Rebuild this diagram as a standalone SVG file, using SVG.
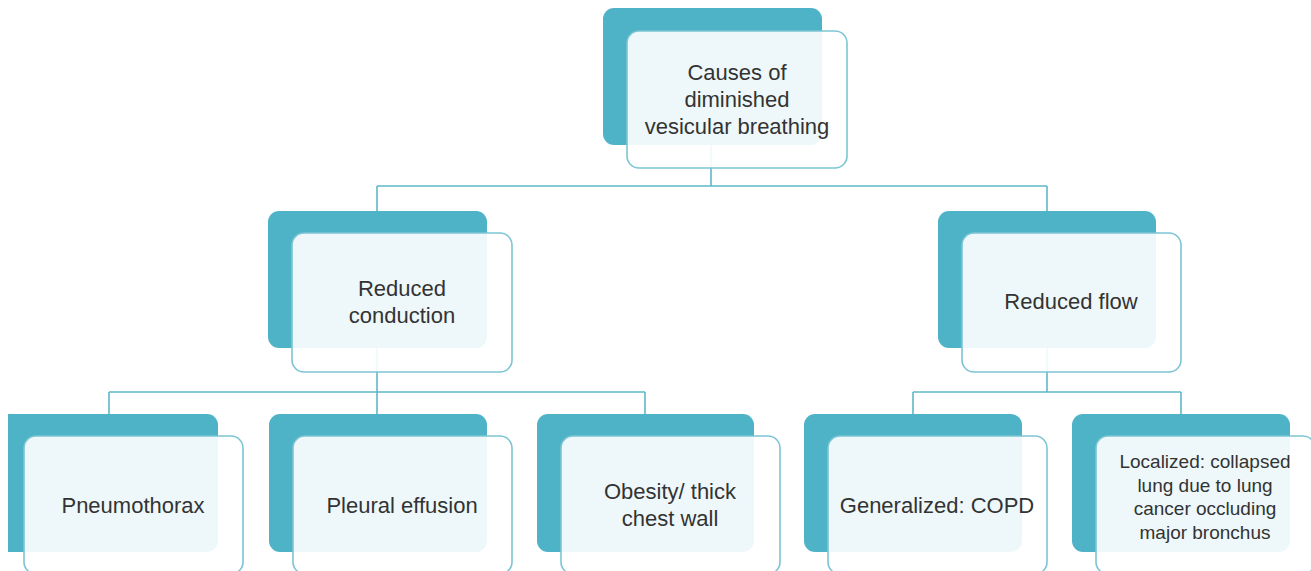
<svg xmlns="http://www.w3.org/2000/svg" width="1311" height="571" viewBox="0 0 1311 571">
<style>
.back{fill:#4fb3c7}
.front{fill:#ffffff;fill-opacity:0.9;stroke:#7cc5d4;stroke-width:1.6}
.conn{fill:none;stroke:#5fb8ca;stroke-width:1.6}
text{font-family:"Liberation Sans",Arial,sans-serif;font-size:22px;fill:#333333;text-anchor:middle}
.small{font-size:19px}
</style>
<rect width="1311" height="571" fill="#ffffff"/>
<g id="connectors">
<path class="conn" d="M711 140V186M377 186H1047M377 186V213M1047 186V213"/>
<path class="conn" d="M377 345V392M109 392H645M109 392V416M377 392V416M645 392V416"/>
<path class="conn" d="M1047 345V392M913 392H1181M913 392V416M1181 392V416"/>
</g>
<g id="n-root">
<rect class="back" x="603" y="8" width="219" height="137" rx="11"/>
<rect class="front" x="627" y="31" width="220" height="137" rx="12"/>
<text x="737" y="80">Causes of</text>
<text x="737" y="107">diminished</text>
<text x="737" y="134">vesicular breathing</text>
</g>
<g id="n-conduction">
<rect class="back" x="268" y="211" width="219" height="137" rx="11"/>
<rect class="front" x="292" y="233" width="220" height="139" rx="12"/>
<text x="402" y="296">Reduced</text>
<text x="402" y="323">conduction</text>
</g>
<g id="n-flow">
<rect class="back" x="938" y="211" width="218" height="137" rx="11"/>
<rect class="front" x="962" y="233" width="219" height="139" rx="12"/>
<text x="1071" y="309">Reduced flow</text>
</g>
<g id="n-pneumothorax">
<path class="back" d="M8 414H207A11 11 0 0 1 218 425V541A11 11 0 0 1 207 552H8Z"/>
<rect class="front" x="24" y="436" width="219" height="138" rx="12"/>
<text x="133" y="513">Pneumothorax</text>
</g>
<g id="n-pleural">
<rect class="back" x="269" y="414" width="218" height="138" rx="11"/>
<rect class="front" x="293" y="436" width="219" height="138" rx="12"/>
<text x="402" y="513">Pleural effusion</text>
</g>
<g id="n-obesity">
<rect class="back" x="537" y="414" width="217" height="138" rx="11"/>
<rect class="front" x="561" y="436" width="219" height="138" rx="12"/>
<text x="670" y="499">Obesity/ thick</text>
<text x="670" y="526">chest wall</text>
</g>
<g id="n-generalized">
<rect class="back" x="804" y="414" width="218" height="138" rx="11"/>
<rect class="front" x="828" y="436" width="219" height="138" rx="12"/>
<text x="937" y="513">Generalized: COPD</text>
</g>
<g id="n-localized">
<rect class="back" x="1072" y="414" width="218" height="138" rx="11"/>
<rect class="front" x="1096" y="436" width="219" height="138" rx="12"/>
<text class="small" x="1205" y="468">Localized: collapsed</text>
<text class="small" x="1205" y="491.5">lung due to lung</text>
<text class="small" x="1205" y="515">cancer occluding</text>
<text class="small" x="1205" y="538.5">major bronchus</text>
</g>
</svg>
